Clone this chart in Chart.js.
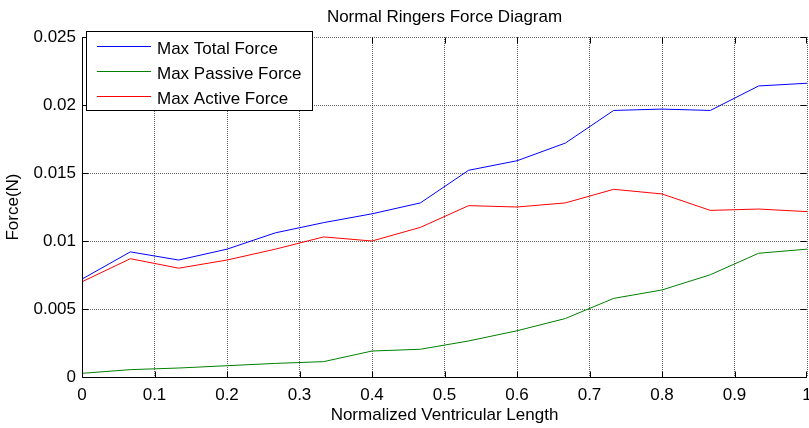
<!DOCTYPE html>
<html>
<head>
<meta charset="utf-8">
<script src="https://cdn.jsdelivr.net/npm/chart.js@4/dist/chart.umd.min.js"></script>
<style>
  html, body { margin: 0; padding: 0; background: #fff; }
  #wrap { width: 809px; height: 428px; }
</style>
</head>
<body>
<div id="wrap"><canvas id="forces" width="809" height="428"></canvas></div>
<script>
var FONT = '"Liberation Sans", Arial, Helvetica, sans-serif';
var FONT_SIZE = 17;
var GRID_COLOR = 'rgba(0,0,0,0.6)';

// normalized ventricular length, 16 samples
var lengths = [0, 0.0667, 0.1333, 0.2, 0.2667, 0.3333, 0.4, 0.4667,
               0.5333, 0.6, 0.6667, 0.7333, 0.8, 0.8667, 0.9333, 1];

var totalForce = [0.0072, 0.0092, 0.0086, 0.0094, 0.0106, 0.01135, 0.0120, 0.0128,
                  0.0152, 0.0159, 0.0172, 0.0196, 0.0197, 0.0196, 0.0214, 0.0216];
var passiveForce = [0.00027, 0.00054, 0.00066, 0.00083, 0.0010, 0.00113, 0.00191, 0.00204,
                    0.00265, 0.0034, 0.0043, 0.00578, 0.0064, 0.00752, 0.0091, 0.0094];
var activeForce = [0.0070, 0.0087, 0.0080, 0.0086, 0.0094, 0.0103, 0.0100, 0.0110,
                   0.0126, 0.0125, 0.0128, 0.0138, 0.01346, 0.01225, 0.01235, 0.01216];

var seriesNames = ["Max Total Force", "Max Passive Force", "Max Active Force"];
var seriesColors = ["#0000ff", "#008000", "#ff0000"];

function toPoints(values) {
    return values.map(function(v, i) { return { x: lengths[i], y: v }; });
}

// MATLAB style axes lines, inward ticks, title and boxed legend
var matlabBox = {
    id: 'matlabBox',
    afterDraw: function(chart) {
        var ctx = chart.ctx;
        var a = chart.chartArea;
        var xs = chart.scales.x, ys = chart.scales.y;
        var l = Math.round(a.left) + 0.5, r = Math.round(a.right) - 0.5;
        var t = Math.round(a.top) + 0.5, b = Math.round(a.bottom) + 0.5;
        ctx.save();
        ctx.strokeStyle = '#000';
        ctx.lineWidth = 1;
        ctx.setLineDash([]);
        // only left and bottom axis lines are solid
        ctx.beginPath();
        ctx.moveTo(l, t); ctx.lineTo(l, b); ctx.lineTo(r, b);
        ctx.stroke();

        var tl = 6;
        ctx.beginPath();
        xs.ticks.forEach(function(tk) {
            var px = Math.round(xs.getPixelForValue(tk.value)) + 0.5;
            if (px > r) px = r;
            ctx.moveTo(px, b); ctx.lineTo(px, b - tl);
            ctx.moveTo(px, t); ctx.lineTo(px, t + tl);
        });
        ys.ticks.forEach(function(tk) {
            var py = Math.round(ys.getPixelForValue(tk.value)) + 0.5;
            ctx.moveTo(l, py); ctx.lineTo(l + tl, py);
            ctx.moveTo(r, py); ctx.lineTo(r - tl, py);
        });
        ctx.stroke();

        // title
        ctx.fillStyle = '#000';
        ctx.font = FONT_SIZE + 'px ' + FONT;
        ctx.textAlign = 'center';
        ctx.textBaseline = 'alphabetic';
        ctx.fillText('Normal Ringers Force Diagram', (a.left + a.right) / 2, 22);

        // legend
        var bx = 86.5, by = 31.5, bw = 226, bh = 79;
        ctx.fillStyle = '#fff';
        ctx.fillRect(bx, by, bw, bh);
        ctx.strokeStyle = '#000';
        ctx.strokeRect(bx, by, bw, bh);
        ctx.textAlign = 'left';
        chart.data.datasets.forEach(function(ds, i) {
            var ly = 46.5 + i * 25;
            ctx.strokeStyle = ds.borderColor;
            ctx.beginPath();
            ctx.moveTo(97, ly); ctx.lineTo(151, ly);
            ctx.stroke();
            ctx.fillStyle = '#000';
            ctx.fillText(ds.label, 157, 54 + i * 25);
        });
        ctx.restore();
    }
};

var config = {
    type: 'line',
    data: {
        datasets: [
            { label: seriesNames[0], data: toPoints(totalForce), borderColor: seriesColors[0] },
            { label: seriesNames[1], data: toPoints(passiveForce), borderColor: seriesColors[1] },
            { label: seriesNames[2], data: toPoints(activeForce), borderColor: seriesColors[2] }
        ]
    },
    options: {
        responsive: false,
        animation: false,
        layout: { padding: { top: 37, right: 2, left: 0, bottom: 0 } },
        elements: {
            line: { borderWidth: 1, tension: 0, fill: false },
            point: { radius: 0 }
        },
        plugins: {
            legend: { display: false },
            title: { display: false },
            tooltip: { enabled: false }
        },
        scales: {
            x: {
                type: 'linear',
                min: 0,
                max: 1,
                afterFit: function(scale) {
                    scale.height = 51;
                    scale.paddingLeft = 0;
                    scale.paddingRight = 0;
                },
                grid: { color: GRID_COLOR, lineWidth: 1, drawTicks: false },
                border: { display: false, dash: [1, 1] },
                ticks: {
                    stepSize: 0.1,
                    color: '#000',
                    padding: 8,
                    maxRotation: 0,
                    font: { family: FONT, size: FONT_SIZE },
                    callback: function(v) { return String(+v.toFixed(1)); }
                },
                title: {
                    display: true,
                    text: 'Normalized Ventricular Length',
                    color: '#000',
                    font: { family: FONT, size: FONT_SIZE },
                    padding: { top: 0, bottom: 2 }
                }
            },
            y: {
                min: 0,
                max: 0.025,
                afterFit: function(scale) {
                    scale.width = 82;
                    scale.paddingTop = 0;
                    scale.paddingBottom = 0;
                },
                grid: { color: GRID_COLOR, lineWidth: 1, drawTicks: false },
                border: { display: false, dash: [1, 1] },
                ticks: {
                    stepSize: 0.005,
                    color: '#000',
                    padding: 6,
                    font: { family: FONT, size: FONT_SIZE },
                    callback: function(v) { return String(+v.toFixed(3)); }
                },
                title: {
                    display: true,
                    text: 'Force(N)',
                    color: '#000',
                    font: { family: FONT, size: FONT_SIZE },
                    padding: { top: 3, bottom: 0 }
                }
            }
        }
    },
    plugins: [matlabBox]
};

var ctx = document.getElementById("forces").getContext("2d");
var forceChart = new Chart(ctx, config);
</script>
</body>
</html>
